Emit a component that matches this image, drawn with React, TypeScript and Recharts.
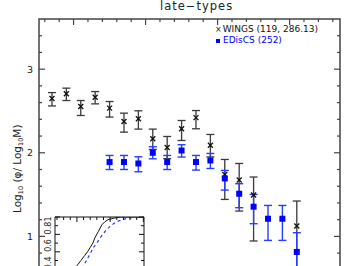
import React from 'react';
import { ScatterChart, LineChart, Line, Scatter, ErrorBar, XAxis, YAxis, ReferenceArea } from 'recharts';

// mass bins (log10 M), bin centres
const massBins = [9.85, 9.95, 10.05, 10.15, 10.25, 10.35, 10.45, 10.55, 10.65, 10.75, 10.85, 10.95, 11.05, 11.15, 11.25, 11.35, 11.45, 11.55];

// WINGS late-types
const wingsPhi = [2.65, 2.705, 2.553, 2.665, 2.534, 2.374, 2.406, 2.167, 2.063, 2.287, 2.42, 2.09, 1.74, 1.674, 1.495, null, null, 1.124];
const wingsHigh = [2.72, 2.773, 2.625, 2.732, 2.613, 2.474, 2.502, 2.283, 2.195, 2.386, 2.505, 2.219, 1.92, 1.872, 1.71, null, null, 1.423];
const wingsLow = [2.56, 2.625, 2.446, 2.585, 2.427, 2.247, 2.283, 2.04, 1.93, 2.147, 2.287, 1.95, 1.442, 1.303, 0.945, null, null, 0.6];

// EDisCS late-types
const edisPhi = [null, null, null, null, 1.889, 1.889, 1.872, 2.0, 1.889, 2.027, 1.889, 1.908, 1.693, 1.51, 1.355, 1.211, 1.211, 0.814];
const edisHigh = [null, null, null, null, 1.968, 1.968, 1.952, 2.072, 1.968, 2.096, 1.968, 1.992, 1.789, 1.63, 1.502, 1.37, 1.37, 1.044];
const edisLow = [null, null, null, null, 1.8, 1.8, 1.773, 1.928, 1.8, 1.949, 1.793, 1.812, 1.554, 1.343, 1.152, 0.952, 0.952, 0.55];

// inset: cumulative distributions
const cumWingsMass = [10.2, 10.28, 10.36, 10.43, 10.5, 10.56, 10.62, 10.66, 10.7, 10.74, 10.77, 10.82, 10.875, 10.92, 10.97, 11.05, 11.15, 11.51];
const cumWingsFrac = [0, 0.1, 0.22, 0.33, 0.44, 0.5, 0.56, 0.6, 0.65, 0.7, 0.76, 0.83, 0.91, 0.945, 0.97, 0.985, 1, 1];
const cumEdisMass = [10.24, 10.33, 10.42, 10.5, 10.6, 10.68, 10.745, 10.8, 10.85, 10.94, 11.025, 11.1, 11.175, 11.3, 11.45, 11.51];
const cumEdisFrac = [0, 0.1, 0.22, 0.33, 0.44, 0.55, 0.645, 0.7, 0.76, 0.85, 0.91, 0.945, 0.97, 0.99, 1, 1];

const xTicks = [9.8, 9.9, 10.0, 10.1, 10.2, 10.3, 10.4, 10.5, 10.6, 10.7, 10.8, 10.9, 11.0, 11.1, 11.2, 11.3, 11.4, 11.5, 11.6, 11.7, 11.8];
const yTicks = [0.2, 0.4, 0.6, 0.8, 1, 1.2, 1.4, 1.6, 1.8, 2, 2.2, 2.4, 2.6, 2.8, 3, 3.2, 3.4];
const insetXTicks = [10.2, 10.3, 10.4, 10.5, 10.6, 10.7, 10.8, 10.9, 11.0, 11.1, 11.2, 11.3, 11.4, 11.5];
const insetYTicks = [0.1, 0.2, 0.3, 0.4, 0.5, 0.6, 0.7, 0.8, 0.9, 1];

const X_DOMAIN: [number, number] = [9.76, 11.85];
const Y_DOMAIN: [number, number] = [0, 3.6];
const IX_DOMAIN: [number, number] = [10.17, 11.51];

const FONT = '"DejaVu Sans", sans-serif';
const AXIS = '#444';

const W = 359;
const H = 340;
const LEFT = 39;
const TOP = 19;
const M = { top: 0, right: 19, bottom: 20, left: 0 };
const PLOT_RIGHT = W - M.right;
const PLOT_BOTTOM = H - M.bottom;

const toRows = (phi: (number | null)[], hi: (number | null)[], lo: (number | null)[]) =>
  massBins
    .map((m, i) => (phi[i] == null ? null : { m, phi: phi[i] as number, err: [(phi[i] as number) - (lo[i] as number), (hi[i] as number) - (phi[i] as number)] }))
    .filter(Boolean) as { m: number; phi: number; err: number[] }[];

const wingsRows = toRows(wingsPhi, wingsHigh, wingsLow);
const edisRows = toRows(edisPhi, edisHigh, edisLow);

const insetWings = cumWingsMass.map((m, i) => ({ m, f: cumWingsFrac[i] }));
const insetEdis = cumEdisMass.map((m, i) => ({ m, f: cumEdisFrac[i] }));

const isMult = (v: number, step: number) => Math.abs(v / step - Math.round(v / step)) < 1e-6;

const YTick = (props: any) => {
  const { x, y, payload } = props;
  const major = isMult(payload.value, 1);
  const len = major ? 6 : 3;
  return (
    <g>
      <line x1={x} x2={x + len} y1={y} y2={y} stroke={AXIS} strokeWidth={1.2} />
      <line x1={PLOT_RIGHT} x2={PLOT_RIGHT - len} y1={y} y2={y} stroke={AXIS} strokeWidth={1.2} />
      {major && (
        <text x={x - 6} y={y} dy={3.5} textAnchor="end" fontSize={9.5} fontFamily={FONT} fill="#222">
          {payload.value}
        </text>
      )}
    </g>
  );
};

const XTick = (props: any) => {
  const { x, y, payload } = props;
  const len = isMult(payload.value, 0.5) ? 6 : 3;
  return (
    <g>
      <line x1={x} x2={x} y1={y} y2={y + len} stroke={AXIS} strokeWidth={1.2} />
      <line x1={x} x2={x} y1={PLOT_BOTTOM} y2={PLOT_BOTTOM - len} stroke={AXIS} strokeWidth={1.2} />
    </g>
  );
};

const InsetYTick = (props: any) => {
  const { x, y, payload } = props;
  const major = isMult(payload.value, 0.2);
  const len = major ? 5 : 3;
  const top = payload.value === 1;
  return (
    <g>
      <line x1={x} x2={x + len} y1={y} y2={y} stroke="#111" strokeWidth={1} />
      <line x1={x + 89} x2={x + 89 - len} y1={y} y2={y} stroke="#111" strokeWidth={1} />
      {major && (
        <text
          x={x - 4}
          y={top ? y + 2 : y}
          transform={`rotate(-90, ${x - 4}, ${top ? y + 2 : y})`}
          textAnchor={top ? 'middle' : 'start'}
          fontSize={8}
          fontFamily={FONT}
          fill="#222"
        >
          {payload.value}
        </text>
      )}
    </g>
  );
};

const InsetXTick = (props: any) => {
  const { x, y, payload } = props;
  const len = isMult(payload.value, 0.5) ? 5 : 3;
  return <line x1={x} x2={x} y1={y} y2={y + len} stroke="#111" strokeWidth={1} />;
};

const Cross = (props: any) => {
  const { cx, cy } = props;
  const r = 2.5;
  return (
    <g stroke="#111" strokeWidth={1.3}>
      <line x1={cx - r} y1={cy - r} x2={cx + r} y2={cy + r} />
      <line x1={cx - r} y1={cy + r} x2={cx + r} y2={cy - r} />
    </g>
  );
};

const Square = (props: any) => {
  const { cx, cy } = props;
  return <rect x={cx - 3} y={cy - 3} width={6} height={6} fill="#0000ff" />;
};

const LegendBox = () => (
  <div style={{ position: 'absolute', left: 215, top: 24, fontFamily: FONT, fontSize: 9, lineHeight: '11px', whiteSpace: 'nowrap' }}>
    <div style={{ color: '#111' }}>
      <span style={{ fontSize: 8, marginRight: 1 }}>×</span>WINGS (119, 286.13)
    </div>
    <div style={{ color: '#0000ff' }}>
      <span style={{ display: 'inline-block', width: 4, height: 4, background: '#0000ff', marginRight: 3, marginLeft: 1, verticalAlign: 'middle' }} />
      EDisCS (252)
    </div>
  </div>
);

export default function App() {
  return (
    <div style={{ position: 'fixed', left: 0, top: 0, width: W, height: 266, overflow: 'hidden', background: '#fff' }}>
      <div style={{ position: 'absolute', left: 160, top: 0, fontFamily: FONT, fontSize: 11.5, letterSpacing: 1, color: '#222', lineHeight: '13px' }}>
        late−types
      </div>
      <ScatterChart width={W} height={H} margin={M}>
        <XAxis
          type="number"
          dataKey="m"
          orientation="top"
          domain={X_DOMAIN}
          ticks={xTicks}
          interval={0}
          height={TOP}
          tickSize={0}
          tickMargin={0}
          axisLine={false}
          tick={XTick}
          allowDataOverflow
        />
        <YAxis
          type="number"
          dataKey="phi"
          domain={Y_DOMAIN}
          ticks={yTicks}
          interval={0}
          width={LEFT}
          tickSize={0}
          tickMargin={0}
          axisLine={false}
          tick={YTick}
          allowDataOverflow
        />
        <ReferenceArea x1={X_DOMAIN[0]} x2={X_DOMAIN[1]} y1={Y_DOMAIN[0]} y2={Y_DOMAIN[1]} fill="none" stroke={AXIS} strokeWidth={1.5} fillOpacity={0} />
        <Scatter data={wingsRows} dataKey="phi" shape={Cross} isAnimationActive={false}>
          <ErrorBar dataKey="err" direction="y" width={4} stroke="#3a3a3a" strokeWidth={1.3} isAnimationActive={false} />
        </Scatter>
        <Scatter data={edisRows} dataKey="phi" shape={Square} isAnimationActive={false}>
          <ErrorBar dataKey="err" direction="y" width={4} stroke="#2a3cff" strokeWidth={1.4} isAnimationActive={false} />
        </Scatter>
      </ScatterChart>
      <svg width={30} height={150} style={{ position: 'absolute', left: 0, top: 110 }}>
        <text x={21} y={103} transform="rotate(-90, 21, 103)" fontSize={10.5} fontFamily={FONT} fill="#222">
          Log<tspan fontSize={6.5} dy={2}>10</tspan>
          <tspan dy={-2}> (φ/ Log</tspan>
          <tspan fontSize={6.5} dy={2}>10</tspan>
          <tspan dy={-2}>M)</tspan>
        </text>
      </svg>
      <LegendBox />
      <div style={{ position: 'absolute', left: 41, top: 216 }}>
        <LineChart width={105} height={100} margin={{ top: 0, right: 2, bottom: 12, left: 0 }} style={{ overflow: 'visible' }}>
          <XAxis
            type="number"
            dataKey="m"
            orientation="top"
            domain={IX_DOMAIN}
            ticks={insetXTicks}
            interval={0}
            height={1}
            tickSize={0}
            tickMargin={0}
            axisLine={false}
            tick={InsetXTick}
            allowDataOverflow
          />
          <YAxis
            type="number"
            dataKey="f"
            domain={[0, 1]}
            ticks={insetYTicks}
            interval={0}
            width={14}
            tickSize={0}
            tickMargin={0}
            axisLine={false}
            tick={InsetYTick}
            allowDataOverflow
          />
          <ReferenceArea x1={IX_DOMAIN[0]} x2={IX_DOMAIN[1]} y1={0} y2={1} fill="#fff" fillOpacity={1} stroke="#111" strokeWidth={1} />
          <Line data={insetWings} dataKey="f" type="linear" stroke="#111" strokeWidth={1} dot={false} isAnimationActive={false} />
          <Line data={insetEdis} dataKey="f" type="linear" stroke="#2a3cff" strokeWidth={1.2} strokeDasharray="3 3" dot={false} isAnimationActive={false} />
        </LineChart>
      </div>
    </div>
  );
}
